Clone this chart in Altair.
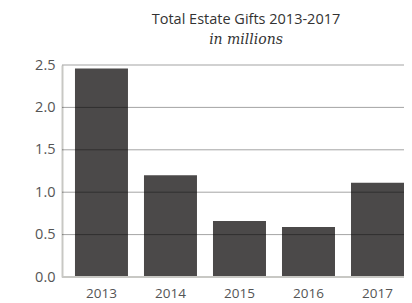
import altair as alt
import pandas as pd

years = ["2013", "2014", "2015", "2016", "2017"]
gifts = [2.46, 1.20, 0.66, 0.59, 1.11]
grid_values = [0.5, 1.0, 1.5, 2.0, 2.5]

df = pd.DataFrame({"year": years, "gifts": gifts})
gdf = pd.DataFrame({"v": grid_values})

yscale = alt.Scale(domain=[0, 2.5], nice=False)

bars = alt.Chart(df).mark_bar(color="#4b4949").encode(
    x=alt.X("year:N", sort=years, title=None,
            scale=alt.Scale(paddingInner=0.232, paddingOuter=0.094, align=1),
            axis=alt.Axis(labelAngle=0, domain=False, ticks=False, labelFont="Open Sans",
                          labelFontSize=13.5, labelColor="#555555", labelPadding=9)),
    y=alt.Y("gifts:Q", scale=yscale, title=None,
            axis=alt.Axis(values=[0, 0.5, 1.0, 1.5, 2.0, 2.5], format=".1f", grid=False,
                          ticks=False, domain=True, domainColor="#c8c8c4", domainWidth=2,
                          labelFont="Open Sans", labelFontSize=14.5, labelColor="#555555",
                          labelPadding=7)),
)

grid = alt.Chart(gdf).mark_rule(color="#000000", opacity=0.36, strokeWidth=1).encode(
    y=alt.Y("v:Q", scale=yscale)
)

base = alt.Chart(pd.DataFrame({"v": [0]})).mark_rule(color="#c8c8c4", strokeWidth=2).encode(
    y=alt.Y("v:Q", scale=yscale)
)

chart = alt.layer(bars, grid, base).properties(
    width=342,
    height=212,
    title=alt.TitleParams(
        text="Total Estate Gifts 2013-2017",
        subtitle="in millions",
        font="Open Sans",
        fontSize=14.5,
        fontWeight="normal",
        color="#333333",
        subtitleFont="DejaVu Serif",
        subtitleFontStyle="italic",
        subtitleFontSize=14,
        subtitleColor="#333333",
        subtitlePadding=6,
        anchor="middle",
        dx=13,
        offset=9,
    ),
    autosize=alt.AutoSizeParams(type="none"),
    padding={"left": 54, "top": 57, "right": 0, "bottom": 24},
).configure_view(stroke=None)

chart.save("out.html", embed_options={"renderer": "svg", "actions": False})
